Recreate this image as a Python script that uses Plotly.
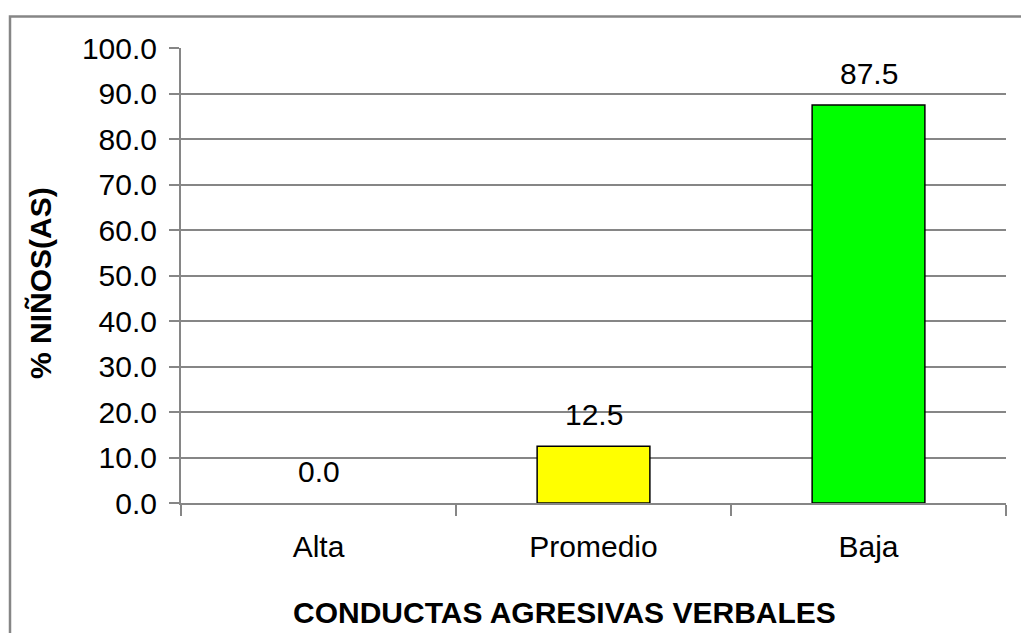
import plotly.graph_objects as go

categories = ["Alta", "Promedio", "Baja"]
values = [0.0, 12.5, 87.5]
colors = ["#FF0000", "#FFFF00", "#00FF00"]
y_ticks = [0, 10, 20, 30, 40, 50, 60, 70, 80, 90, 100]
y_title = "% NIÑOS(AS)"
x_title = "CONDUCTAS AGRESIVAS VERBALES"

# the page body has an 8px margin, so the figure is laid out in page pixels minus 8
OFF = 8
W, H = 1029 - OFF, 633 - OFF
L, R, T, B = 181 - OFF, 1006 - OFF, 47.5 - OFF, 503.5 - OFF
pw, ph = R - L, B - T

def px(x):
    return (x - OFF - L) / pw

def py(y):
    return (B - (y - OFF)) / ph

FONT = "Liberation Sans, Arial, sans-serif"
GRAY = "#868686"
FS = 30

fig = go.Figure()
fig.add_trace(go.Bar(
    x=categories, y=values,
    marker=dict(color=colors,
                line=dict(color="#000000", width=[1.5 if v > 0 else 0 for v in values])),
    width=0.41,
))

for c, v in zip(categories, values):
    fig.add_annotation(x=c, y=v, text=f"{v:.1f}", showarrow=False,
                       yanchor="bottom", yshift=13,
                       font=dict(family=FONT, size=FS, color="#000000"))

fig.add_annotation(xref="paper", yref="paper", x=px(41), y=py(283),
                   text=f"<b>{y_title}</b>", textangle=-90, showarrow=False,
                   xanchor="center", yanchor="middle",
                   font=dict(family=FONT, size=FS, color="#000000"))
fig.add_annotation(xref="paper", yref="paper", x=px(564), y=py(613),
                   text=f"<b>{x_title}</b>", showarrow=False,
                   xanchor="center", yanchor="middle",
                   font=dict(family=FONT, size=FS, color="#000000"))

fig.add_shape(type="rect", xref="paper", yref="paper",
              x0=px(10), y0=py(680), x1=px(1080), y1=py(16),
              line=dict(color=GRAY, width=2.5), fillcolor="rgba(0,0,0,0)",
              layer="below")

fig.update_layout(
    width=W, height=H,
    margin=dict(l=L, r=W - R, t=T, b=H - B),
    paper_bgcolor="#FFFFFF", plot_bgcolor="#FFFFFF",
    showlegend=False,
    font=dict(family=FONT, size=FS, color="#000000"),
    xaxis=dict(
        showline=True, linecolor=GRAY, linewidth=2,
        ticks="outside", tickson="boundaries", ticklen=11, tickcolor=GRAY, tickwidth=2,
        showgrid=False, tickfont=dict(family=FONT, size=FS, color="#000000"),
        ticklabelstandoff=16,
    ),
    yaxis=dict(
        range=[0, 100], tickvals=y_ticks, ticktext=[f"{t:.1f}" for t in y_ticks],
        showline=True, linecolor=GRAY, linewidth=2,
        ticks="outside", ticklen=10, tickcolor=GRAY, tickwidth=2,
        showgrid=True, gridcolor=GRAY, gridwidth=2, zeroline=False,
        tickfont=dict(family=FONT, size=FS, color="#000000"),
        ticklabelstandoff=6,
    ),
)

fig.write_html("out.html")
